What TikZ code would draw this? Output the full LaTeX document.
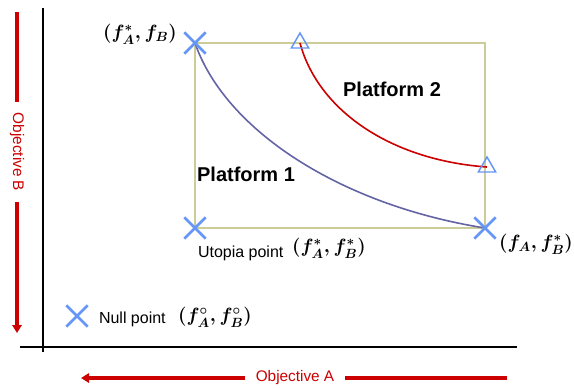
\documentclass[tikz,border=0pt]{standalone}
\usepackage{fontspec}
\setmainfont{Liberation Sans}
\usepackage{xcolor}
\definecolor{axisred}{RGB}{204,0,0}
\definecolor{markblue}{RGB}{102,150,245}
\definecolor{boxkhaki}{RGB}{204,204,153}
\definecolor{slate}{RGB}{100,100,165}
\usepackage{tikz}
\usetikzlibrary{positioning}
\usetikzlibrary{arrows.meta}
\usetikzlibrary{shapes.misc}
\usetikzlibrary{shapes.geometric}

\begin{document}
\begin{tikzpicture}[x=0.75pt,y=-0.75pt,every node/.style={inner sep=0pt,outer sep=0pt},
  xmark/.style={draw=markblue,cross out,line width=2pt,minimum size=16pt},
  trimark/.style={draw=markblue,regular polygon,regular polygon sides=3,line width=1.1pt,minimum size=15pt},
  pair/.style={font=\fontsize{14}{17}\selectfont\boldmath},
  tag/.style={font=\fontsize{12}{14}\selectfont},
  plat/.style={font=\fontsize{15}{18}\selectfont\bfseries},
  objlabel/.style={font=\fontsize{11.5}{14}\selectfont,text=axisred,outer sep=8pt},
  objline/.style={draw=axisred,line width=2.3pt}]
\useasboundingbox (0,0) rectangle (574,387);

% axes
\coordinate (ytop) at (43,8);
\coordinate (ybot) at (43,352);
\coordinate (xleft) at (20,347);
\coordinate (xright) at (517,347);
\draw[line width=1.5pt] (ytop) -- (ybot);
\draw[line width=1.5pt] (xleft) -- (xright);

% objective arrows
\node[objlabel,rotate=-90] (objB) at (17,152) {Objective B};
\coordinate (objBtop) at (17,12);
\coordinate (objBtip) at (17,333);
\draw[objline] (objBtop) -- (objB.west);
\draw[objline,-{Triangle[length=6pt,width=7pt]}] (objB.east) -- (objBtip);
\node[objlabel] (objA) at (295,378) {Objective A};
\coordinate (objAright) at (507,378);
\coordinate (objAtip) at (81,378);
\draw[objline] (objAright) -- (objA.east);
\draw[objline,-{Triangle[length=6pt,width=7pt]}] (objA.west) -- (objAtip);

% box and fronts
\coordinate (nw) at (195,43);
\coordinate (utopia) at (195,228);
\coordinate (se) at (485,228);
\coordinate (ne) at (485,43);
\draw[boxkhaki,line width=1.2pt] (nw) rectangle (se);
\draw[slate,line width=1.2pt] (nw) .. controls (225,130) and (340,205) .. (se);
\coordinate (p2top) at (300,43);
\coordinate (p2end) at (487,167);
\draw[axisred,line width=1.2pt] (p2top) .. controls (318,110) and (390,160) .. (p2end);

% markers
\node[xmark] (nwx) at (nw) {};
\node[xmark] (utopiax) at (utopia) {};
\node[xmark] (sex) at (se) {};
\node[xmark] (nullx) at (77,316) {};
\node[trimark] (p2topt) at (p2top) {};
\node[trimark] (p2endt) at (p2end) {};

% labels
\node[pair] (nwlab) at (140,34) {$(f_A^*, f_B)$};
\node[pair] (utopialab) at (329,248) {$(f_A^*, f_B^*)$};
\node[pair] (selab) at (536,244) {$(f_A, f_B^*)$};
\node[pair] (nulllab) at (215,317) {$(f_A^\circ, f_B^\circ)$};
\node[tag,anchor=base west] (utopiatxt) at (198,257) {Utopia point};
\node[tag,anchor=base west] (nulltxt) at (99,323) {Null point};
\node[plat] (plat1) at (246,174) {Platform 1};
\node[plat] (plat2) at (392,89) {Platform 2};
\end{tikzpicture}
\end{document}
